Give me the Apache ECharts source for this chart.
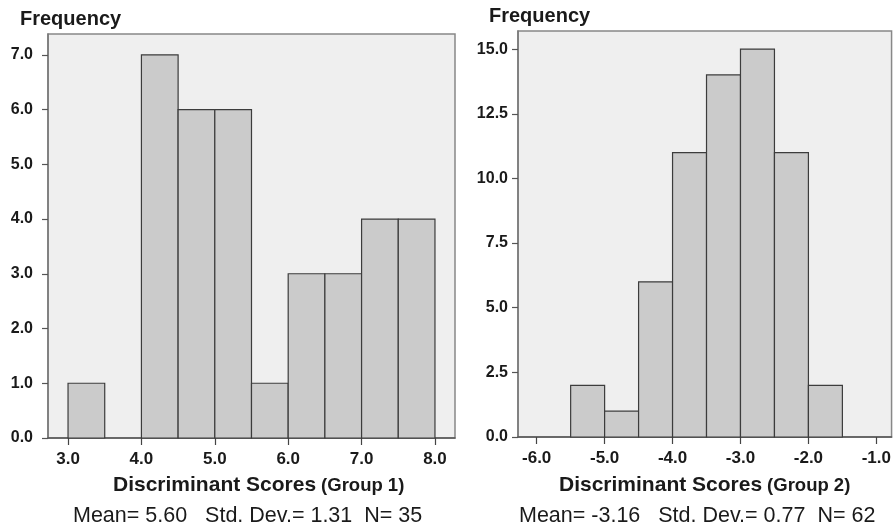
<!DOCTYPE html>
<html>
<head>
<meta charset="utf-8">
<script src="https://cdn.jsdelivr.net/npm/echarts@6/dist/echarts.min.js"></script>
<style>
  html, body { margin: 0; padding: 0; background: #fff; }
  #chart { width: 894px; height: 531px; }
</style>
</head>
<body>
<div id="chart"></div>
<script>
  // histogram bins (lower edge) and counts, bin width 0.5
  const binWidth = 0.5;
  const g1Bins = [3.0, 3.5, 4.0, 4.5, 5.0, 5.5, 6.0, 6.5, 7.0, 7.5];
  const g1Counts = [1, 0, 7, 6, 6, 1, 3, 3, 4, 4];
  const g2Bins = [-5.5, -5.0, -4.5, -4.0, -3.5, -3.0, -2.5, -2.0];
  const g2Counts = [2, 1, 6, 11, 14, 15, 11, 2];

  const g1XTicks = [3, 4, 5, 6, 7, 8];
  const g1YTicks = [0, 1, 2, 3, 4, 5, 6, 7];
  const g2XTicks = [-6, -5, -4, -3, -2, -1];
  const g2YTicks = [0, 2.5, 5, 7.5, 10, 12.5, 15];

  const g1Stats = 'Mean= 5.60   Std. Dev.= 1.31  N= 35';
  const g2Stats = 'Mean= -3.16   Std. Dev.= 0.77  N= 62';

  const font = '"Liberation Sans", Arial, sans-serif';
  const textColor = '#1a1a1a';

  function toBins(bins, counts) {
    return bins.map((b, i) => [b, b + binWidth, counts[i]]);
  }

  function renderBar(params, api) {
    const p0 = api.coord([api.value(0), api.value(2)]);
    const p1 = api.coord([api.value(1), 0]);
    if (api.value(2) === 0) return;
    return {
      type: 'rect',
      shape: { x: p0[0], y: p0[1], width: p1[0] - p0[0], height: p1[1] - p0[1] },
      style: { fill: '#cbcbcb', stroke: '#3c3c3c', lineWidth: 1.2 }
    };
  }

  function xAxis(gridIndex, min, max, ticks) {
    return {
      type: 'value', gridIndex: gridIndex, min: min, max: max,
      splitLine: { show: false },
      axisLine: { onZero: false, lineStyle: { color: '#555', width: 1.5 } },
      axisTick: { length: 7, customValues: ticks, lineStyle: { color: '#444', width: 1.2 } },
      axisLabel: {
        customValues: ticks, margin: 13,
        formatter: v => v.toFixed(1),
        fontSize: 17, fontWeight: 'bold', fontFamily: font, color: textColor
      }
    };
  }

  function yAxis(gridIndex, max, ticks, margin) {
    return {
      type: 'value', gridIndex: gridIndex, min: 0, max: max,
      splitLine: { show: false },
      axisLine: { show: true, lineStyle: { color: '#777', width: 1.5 } },
      axisTick: { show: true, length: 6, customValues: ticks, lineStyle: { color: '#555', width: 1.2 } },
      axisLabel: {
        customValues: ticks, margin: margin,
        formatter: v => v.toFixed(1),
        fontSize: 16, fontWeight: 'bold', fontFamily: font, color: textColor
      }
    };
  }

  function title(text, left, top, size, weight) {
    return {
      text: text, left: left, top: top, padding: 0,
      textStyle: { fontSize: size, fontWeight: weight, fontFamily: font, color: textColor }
    };
  }

  function axisTitle(group, left, top) {
    return {
      text: '{a|Discriminant Scores} {b|(Group ' + group + ')}', left: left, top: top, padding: 0,
      textStyle: {
        rich: {
          a: { fontSize: 21, fontWeight: 'bold', fontFamily: font, color: textColor },
          b: { fontSize: 18.5, fontWeight: 'bold', fontFamily: font, color: textColor }
        }
      }
    };
  }

  const chart = echarts.init(document.getElementById('chart'));
  const option = {
    backgroundColor: '#ffffff',
    animation: false,
    title: [
      title('Frequency', 20, 9, 20, 'bold'),
      title('Frequency', 489, 6, 20, 'bold'),
      axisTitle(1, 113, 475),
      axisTitle(2, 559, 475),
      title(g1Stats, 73, 505, 21.5, 'normal'),
      title(g2Stats, 519, 505, 21.5, 'normal')
    ],
    grid: [
      { left: 48, top: 34, width: 407, height: 404, show: true, backgroundColor: '#efefef', borderColor: '#888', borderWidth: 1.5 },
      { left: 518, top: 31, width: 380, height: 406, show: true, backgroundColor: '#efefef', borderColor: '#888', borderWidth: 1.5 }
    ],
    xAxis: [
      xAxis(0, 2.727, 8.273, g1XTicks),
      xAxis(1, -6.275, -0.776, g2XTicks)
    ],
    yAxis: [
      yAxis(0, 7.38, g1YTicks, 15),
      yAxis(1, 15.7, g2YTicks, 10)
    ],
    series: [
      {
        type: 'custom', name: 'Group 1', xAxisIndex: 0, yAxisIndex: 0,
        renderItem: renderBar, encode: { x: [0, 1], y: 2 },
        data: toBins(g1Bins, g1Counts)
      },
      {
        type: 'custom', name: 'Group 2', xAxisIndex: 1, yAxisIndex: 1,
        renderItem: renderBar, encode: { x: [0, 1], y: 2 },
        data: toBins(g2Bins, g2Counts)
      }
    ]
  };
  chart.setOption(option);
</script>
</body>
</html>
